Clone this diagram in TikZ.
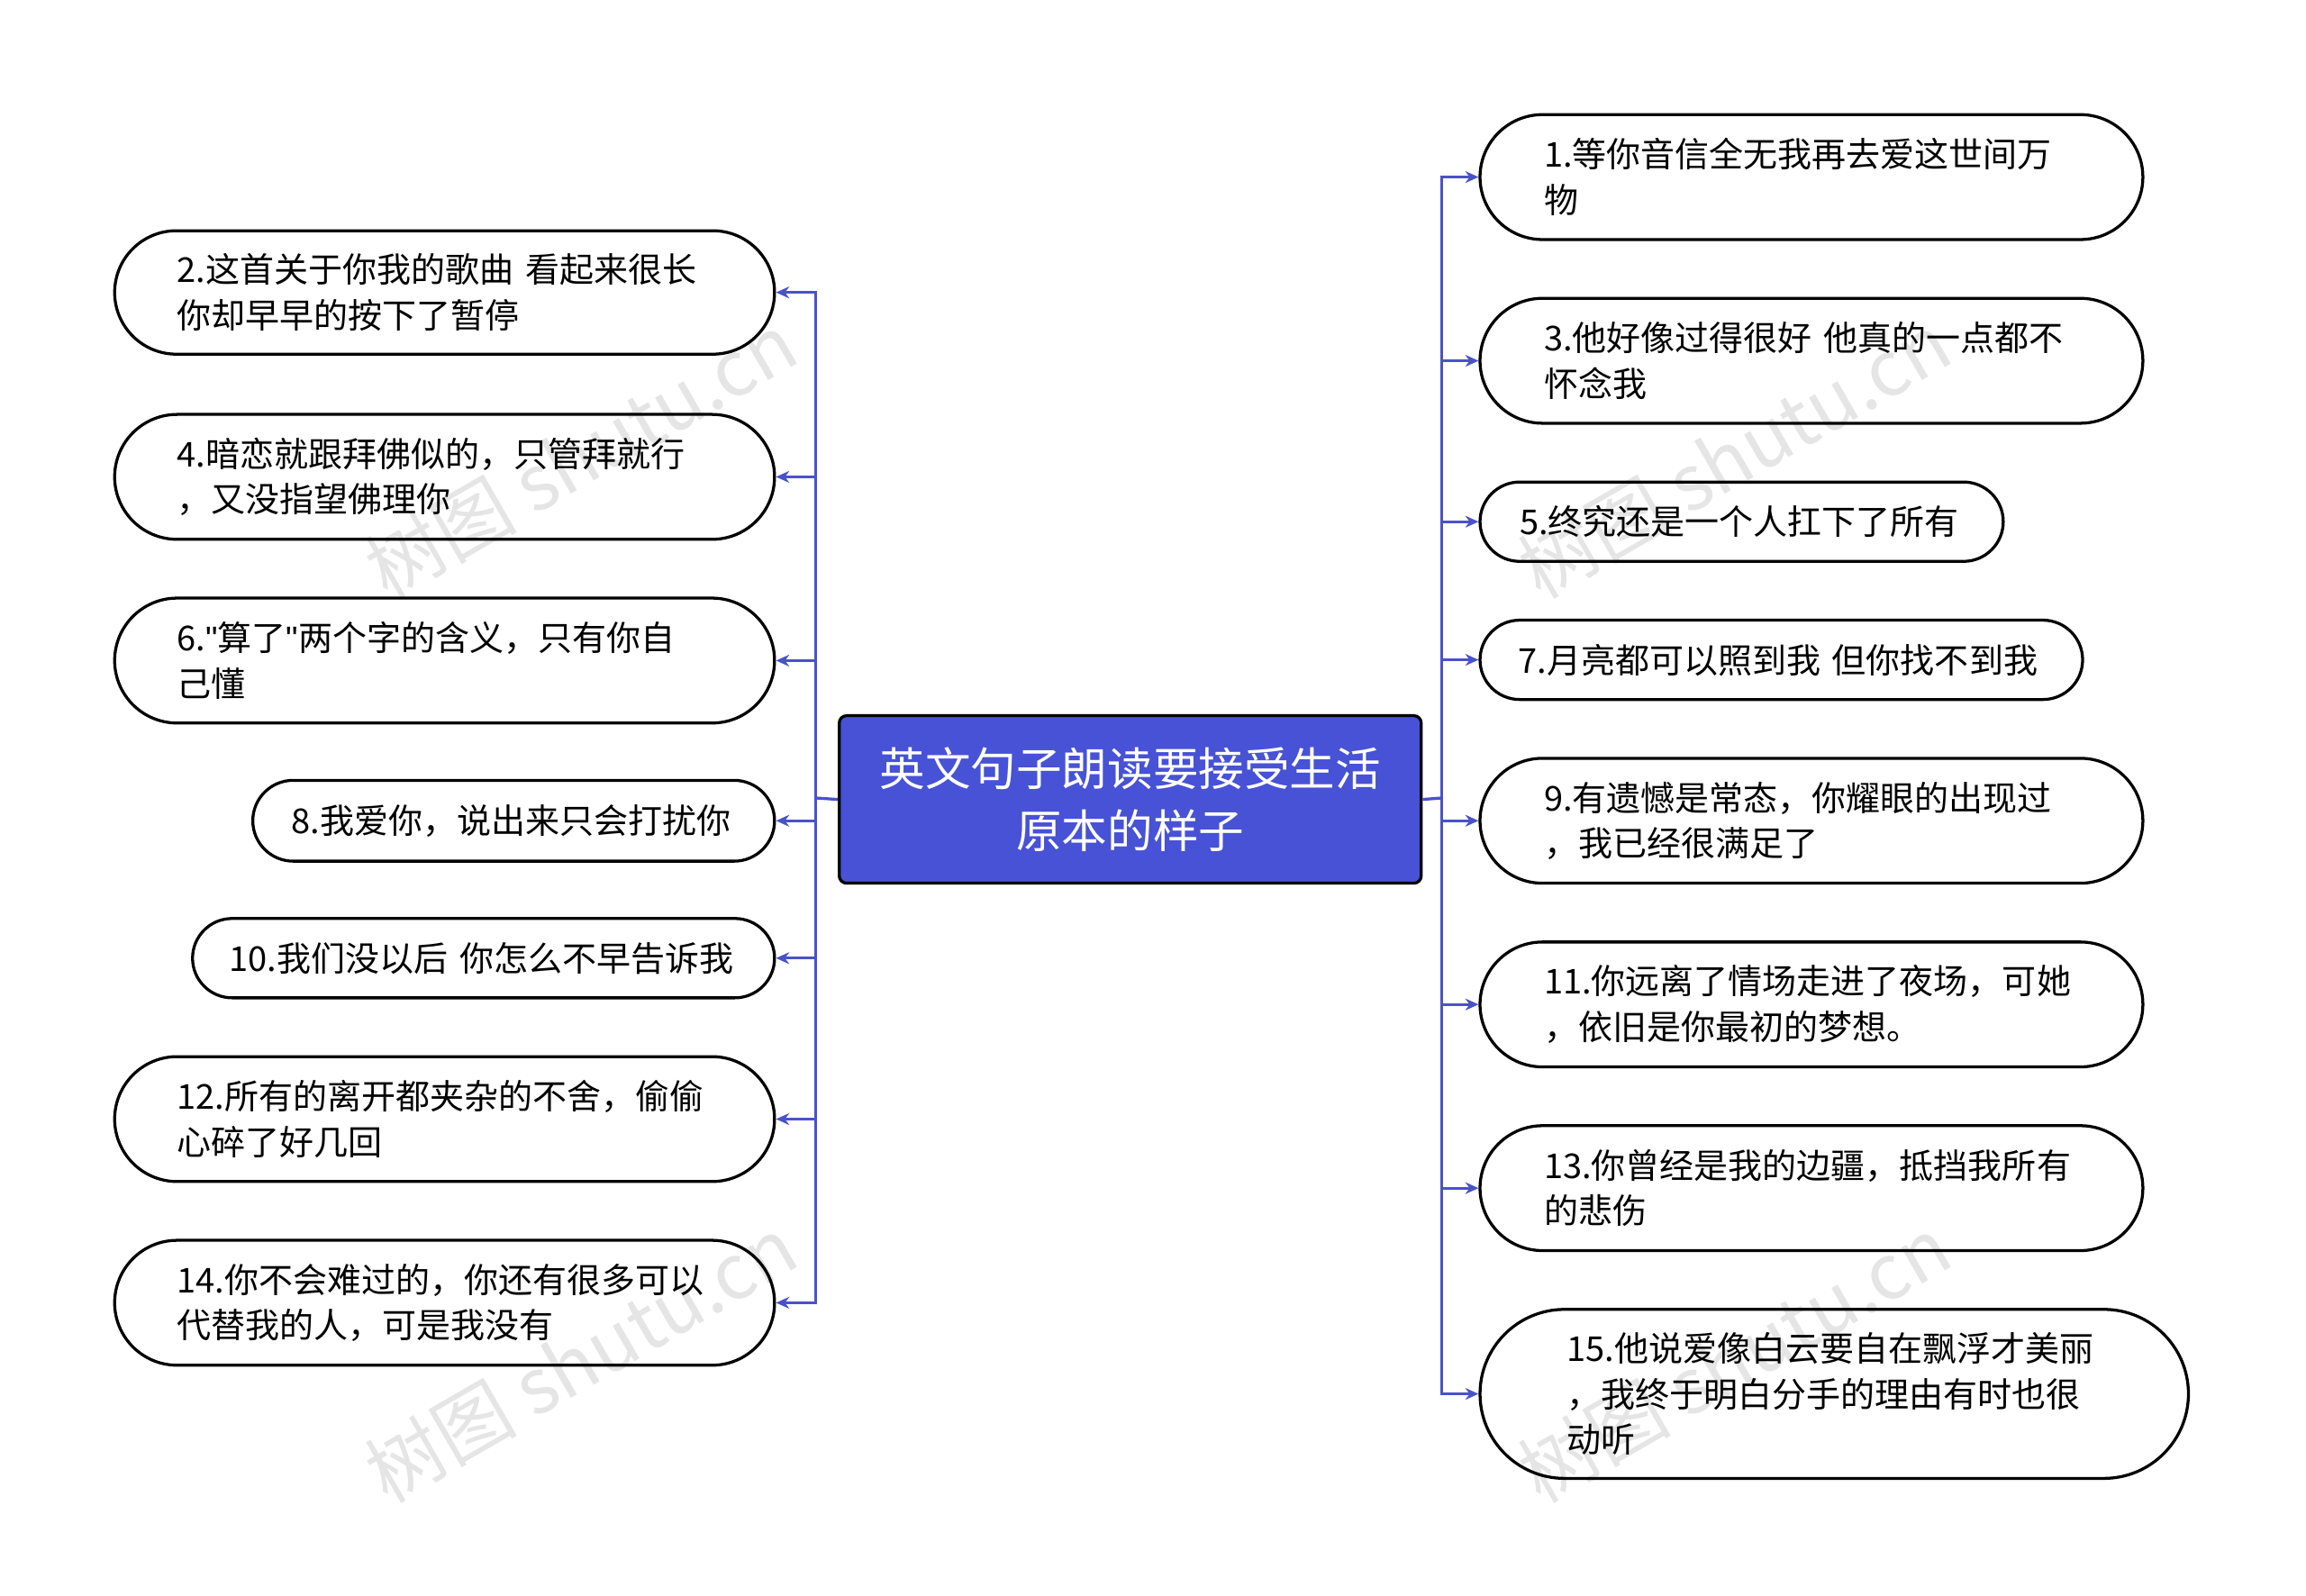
\documentclass[tikz,border=0pt]{standalone}
\usepackage{fontspec}
\setmainfont{Noto Sans CJK SC}
\newfontfamily\qfont{Liberation Sans}
\usetikzlibrary{shapes.misc,arrows.meta}
\definecolor{lnk}{HTML}{4A52C8}
\definecolor{ctr}{HTML}{4752D6}
\tikzset{
 leaf/.style={draw=black,line width=2pt,fill=white,rounded rectangle,rounded rectangle arc length=180,
   font=\fontsize{23.3}{31}\selectfont,align=left,anchor=center,inner sep=0pt},
 con/.style={draw=lnk,line width=2pt,-{Stealth[length=9pt,width=8pt]}},
 wm/.style={text=black,opacity=0.1,font=\fontsize{52}{52}\selectfont,rotate=30}
}
\newcommand{\leafnode}[7]{% name x1 x2 y1 y2 text textwidth
 \node[leaf,minimum width={#3pt-#2pt},minimum height={#5pt-#4pt},text width=#7pt] (#1) at ({(#2+#3)/2},{(#4+#5)/2}) {#6};}
\begin{document}
\begin{tikzpicture}[x=1pt,y=-1pt]
\useasboundingbox (0,0) rectangle (1569,1086);
\node[draw=black,line width=2pt,fill=ctr,rounded corners=5pt,minimum width=396pt,minimum height=114pt,anchor=north west,
 text=white,align=center,font=\fontsize{31}{42}\selectfont] (c) at (570,486) {英文句子朗读要接受生活\\原本的样子};
\leafnode{n2}{78}{527}{157}{241}{2.这首关于你我的歌曲 看起来很长\\你却早早的按下了暂停}{364}
\leafnode{n4}{78}{527}{282}{367}{4.暗恋就跟拜佛似的，只管拜就行\\，又没指望佛理你}{364}
\leafnode{n6}{78}{527}{407}{492}{6.{\qfont"}算了{\qfont"}两个字的含义，只有你自\\己懂}{364}
\leafnode{n8}{172}{527}{531}{586}{8.我爱你，说出来只会打扰你}{302}
\leafnode{n10}{131}{527}{625}{679}{10.我们没以后 你怎么不早告诉我}{346}
\leafnode{n12}{78}{527}{719}{804}{12.所有的离开都夹杂的不舍，偷偷\\心碎了好几回}{364}
\leafnode{n14}{78}{527}{844}{929}{14.你不会难过的，你还有很多可以\\代替我的人，可是我没有}{364}
\leafnode{n1}{1007}{1458}{78}{163}{1.等你音信全无我再去爱这世间万\\物}{364}
\leafnode{n3}{1007}{1458}{203}{288}{3.他好像过得很好 他真的一点都不\\怀念我}{364}
\leafnode{n5}{1007}{1363}{328}{382}{5.终究还是一个人扛下了所有}{302}
\leafnode{n7}{1007}{1417}{422}{476}{7.月亮都可以照到我 但你找不到我}{358}
\leafnode{n9}{1007}{1458}{516}{601}{9.有遗憾是常态，你耀眼的出现过\\，我已经很满足了}{364}
\leafnode{n11}{1007}{1458}{641}{726}{11.你远离了情场走进了夜场，可她\\，依旧是你最初的梦想。}{364}
\leafnode{n13}{1007}{1458}{766}{851}{13.你曾经是我的边疆，抵挡我所有\\的悲伤}{364}
\leafnode{n15}{1007}{1489}{891}{1006}{15.他说爱像白云要自在飘浮才美丽\\，我终于明白分手的理由有时也很\\动听}{364}
\coordinate (L) at (555,543);
\coordinate (R) at (981,543);
\draw[draw=lnk,line width=2pt] (c.west) -- (L) (c.east) -- (R);
\foreach \n in {n2,n4,n6,n8,n10,n12,n14} \draw[con] (L) |- (\n.east);
\foreach \n in {n1,n3,n5,n7,n9,n11,n13,n15} \draw[con] (R) |- (\n.west);
\node[wm] at (395,310) {树图 shutu.cn};
\node[wm] at (395,925) {树图 shutu.cn};
\node[wm] at (1180,310) {树图 shutu.cn};
\node[wm] at (1180,925) {树图 shutu.cn};
\end{tikzpicture}
\end{document}
